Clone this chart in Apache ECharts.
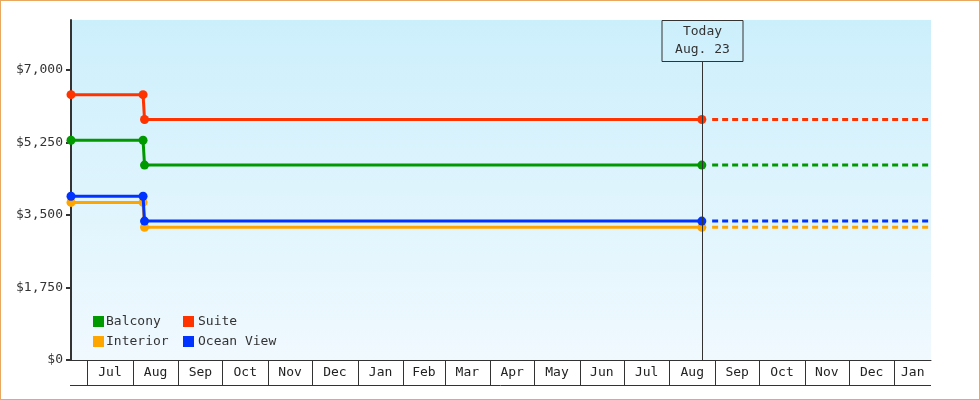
<!DOCTYPE html>
<html>
<head>
<meta charset="utf-8">
<script src="https://cdn.jsdelivr.net/npm/echarts@6/dist/echarts.min.js"></script>
<style>
html,body{margin:0;padding:0;background:#fff;}
#wrap{width:978px;height:398px;border:1px solid #e8a860;}
#chart{width:978px;height:398px;}
</style>
</head>
<body>
<div id="wrap"><div id="chart"></div></div>
<script>
// ---- data ----
const startDate = '2014-06-20';
const endDate = '2016-01-25T20:00';
const changeDates = ['2014-08-08', '2014-08-09'];
const todayDate = '2015-08-23';
const todayLabel = ['Today', 'Aug. 23'];
const forecastStart = '2015-08-30';
const forecastEnd = '2016-01-24';

const seriesNames = ['Balcony', 'Suite', 'Interior', 'Ocean View'];
const seriesColors = ['#009900', '#ff3300', '#ffa500', '#0033ff'];
const priceBefore = [5300, 6400, 3800, 3950];
const priceAfter = [4700, 5800, 3200, 3350];

const yTicks = [0, 1750, 3500, 5250, 7000];
const yMax = 8200;

const monthStarts = ['2014-07-01','2014-08-01','2014-09-01','2014-10-01','2014-11-01','2014-12-01',
  '2015-01-01','2015-02-01','2015-03-01','2015-04-01','2015-05-01','2015-06-01','2015-07-01',
  '2015-08-01','2015-09-01','2015-10-01','2015-11-01','2015-12-01','2016-01-01'];
const monthLabels = ['Jul','Aug','Sep','Oct','Nov','Dec','Jan','Feb','Mar','Apr','May','Jun','Jul',
  'Aug','Sep','Oct','Nov','Dec','Jan'];

// ---- chart ----
const FONT = 'DejaVu Sans Mono';
const chart = echarts.init(document.getElementById('chart'), null, {renderer: 'canvas'});

const series = [];
seriesNames.forEach((name, i) => {
  series.push({
    name: name, type: 'line', color: seriesColors[i],
    symbol: 'circle', symbolSize: 9, z: 3 + i,
    lineStyle: {width: 3, color: seriesColors[i]},
    itemStyle: {color: seriesColors[i]},
    data: [
      [startDate, priceBefore[i]],
      [changeDates[0], priceBefore[i]],
      [changeDates[1], priceAfter[i]],
      [todayDate, priceAfter[i]]
    ]
  });
});
seriesNames.forEach((name, i) => {
  series.push({
    name: name, type: 'line', color: seriesColors[i],
    symbol: 'none', z: 3 + i,
    lineStyle: {width: 3, color: seriesColors[i], type: [6, 4]},
    data: [[forecastStart, priceAfter[i]], [forecastEnd, priceAfter[i]]]
  });
});

// month band under the x axis
series.push({
  type: 'custom', name: 'months', clip: false, silent: true, z: 1,
  data: monthStarts.map((d, i) => [d, i]),
  renderItem: function (params, api) {
    const cs = params.coordSys;
    const i = api.value(1);
    const x0 = api.coord([api.value(0), 0])[0];
    const next = i + 1 < monthStarts.length ? api.coord([monthStarts[i + 1], 0])[0] : cs.x + cs.width;
    const y0 = cs.y + cs.height;
    const children = [
      {type: 'line', shape: {x1: Math.round(x0) + 0.5, y1: y0, x2: Math.round(x0) + 0.5, y2: y0 + 25},
       style: {stroke: '#333', lineWidth: 1}},
      {type: 'text', x: (x0 + next) / 2, y: y0 + 13,
       style: {text: monthLabels[i], fill: '#222', font: '13px ' + FONT, align: 'center', verticalAlign: 'middle'}}
    ];
    if (i === 0) {
      children.push({type: 'line', shape: {x1: cs.x - 1, y1: y0 + 25.5, x2: cs.x + cs.width, y2: y0 + 25.5},
        style: {stroke: '#333', lineWidth: 1}});
    }
    return {type: 'group', children: children};
  }
});

// "Today" marker
series.push({
  type: 'custom', name: 'today', clip: false, silent: true, z: 10,
  data: [[todayDate, 0]],
  renderItem: function (params, api) {
    const cs = params.coordSys;
    const p = api.coord([api.value(0), 0]);
    const x = Math.round(p[0]) + 0.5;
    const top = cs.y;
    const boxH = 41, boxW = 81;
    return {type: 'group', children: [
      {type: 'line', shape: {x1: x, y1: top + boxH, x2: x, y2: cs.y + cs.height},
       style: {stroke: '#333', lineWidth: 1}},
      {type: 'rect', shape: {x: x - boxW / 2, y: top + 0.5, width: boxW, height: boxH},
       style: {fill: 'rgba(0,0,0,0)', stroke: '#333', lineWidth: 1}},
      {type: 'text', x: x, y: top + 12,
       style: {text: todayLabel[0], fill: '#333', font: '13px ' + FONT, align: 'center', verticalAlign: 'middle'}},
      {type: 'text', x: x, y: top + 30,
       style: {text: todayLabel[1], fill: '#333', font: '13px ' + FONT, align: 'center', verticalAlign: 'middle'}}
    ]};
  }
});

const legendText1 = {fontFamily: FONT, fontSize: 13, color: '#333', lineHeight: 13, padding: [0, 0, 0, -3]};
const legendText2 = {fontFamily: FONT, fontSize: 13, color: '#333', lineHeight: 13, padding: [0, 0, 0, -1]};

chart.setOption({
  animation: false,
  textStyle: {fontFamily: FONT},
  grid: {
    left: 70, right: 48, top: 19, bottom: 39, show: true, borderWidth: 0,
    backgroundColor: new echarts.graphic.LinearGradient(0, 0, 0, 1, [
      {offset: 0, color: '#cceffc'}, {offset: 1, color: '#f0f9fe'}
    ])
  },
  legend: [
    {data: seriesNames.filter((n, i) => i % 2 === 0), orient: 'vertical', left: 92, top: 314,
     padding: 0, itemWidth: 11, itemHeight: 11, itemGap: 7, icon: 'rect', textStyle: legendText1},
    {data: seriesNames.filter((n, i) => i % 2 === 1), orient: 'vertical', left: 182, top: 314,
     padding: 0, itemWidth: 11, itemHeight: 11, itemGap: 7, icon: 'rect', textStyle: legendText2}
  ],
  xAxis: {
    type: 'time', min: startDate, max: endDate,
    axisLine: {show: true, lineStyle: {color: '#333', width: 1}},
    axisTick: {show: false}, axisLabel: {show: false}, splitLine: {show: false}
  },
  yAxis: {
    type: 'value', min: 0, max: yMax,
    axisLine: {show: true, lineStyle: {color: '#333', width: 2}},
    axisTick: {show: true, length: 5, lineStyle: {color: '#333', width: 2}, customValues: yTicks},
    axisLabel: {customValues: yTicks, margin: 8, color: '#333', fontFamily: FONT, fontSize: 13,
      formatter: v => '$' + v.toLocaleString('en-US')},
    splitLine: {show: false}
  },
  series: series
});
</script>
</body>
</html>
